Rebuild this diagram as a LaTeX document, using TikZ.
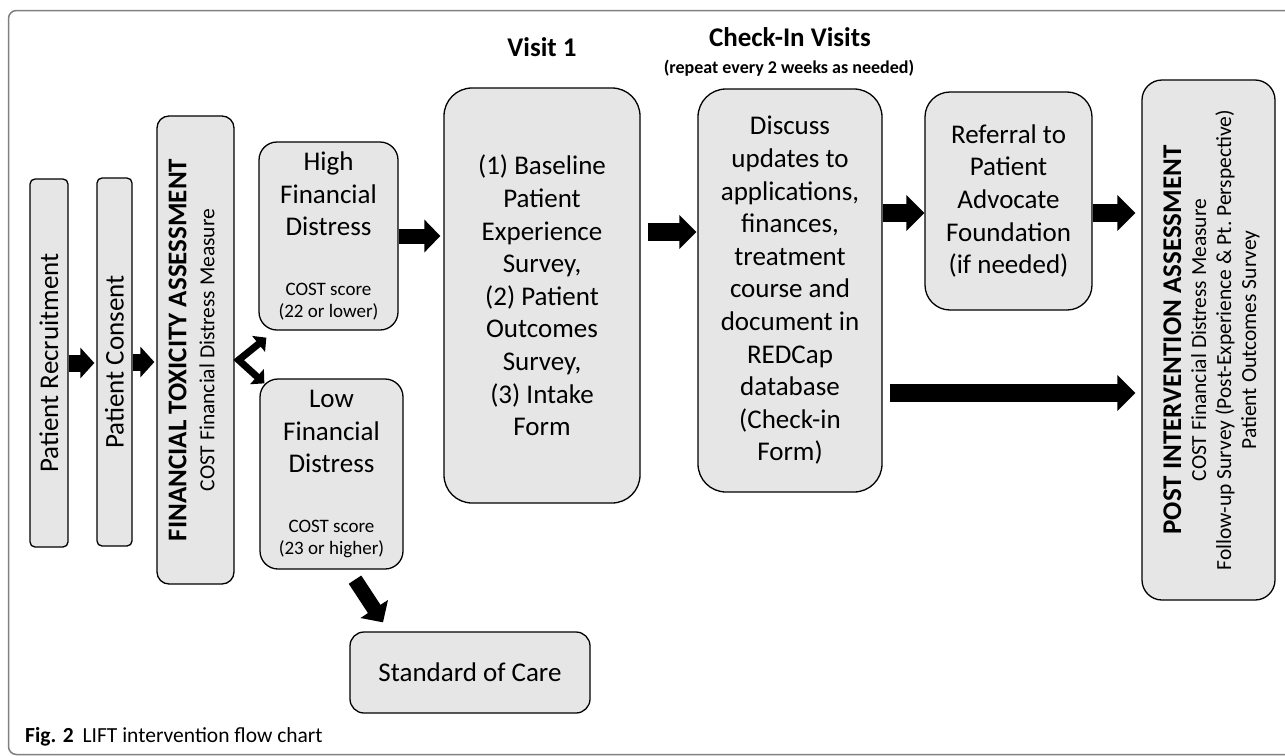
\documentclass[tikz,border=0pt]{standalone}
\usepackage{fontspec}
\setmainfont{Carlito}
\usetikzlibrary{arrows.meta,calc}
\definecolor{boxgray}{HTML}{E6E6E6}
\definecolor{framegray}{HTML}{808080}
\newcommand{\bigtxt}{\fontsize{27}{32.6}\selectfont}
\newcommand{\smalltxt}{\fontsize{19}{22}\selectfont}
\newcommand{\midtxt}{\fontsize{21.5}{25}\selectfont}
% natural inter-word spacing inside fixed-width nodes
\newcommand{\natspace}{\centering\spaceskip=0pt\xspaceskip=0pt\relax}
\begin{document}
\begin{tikzpicture}[x=1pt,y=-1pt,
  box/.style={draw=black, line width=1.3pt, fill=boxgray, inner sep=0pt,
    align=center, font=\bigtxt},
  heading/.style={inner sep=0pt, font=\bfseries\fontsize{27}{32}\selectfont},
  fat/.style={draw=black, line width=#1},
  tipA/.style={-{Triangle[length=14pt,width=30pt]}},
  tipB/.style={-{Triangle[length=16pt,width=32pt]}},
  tipC/.style={-{Triangle[length=17pt,width=33pt]}},
  tipD/.style={-{Triangle[length=18pt,width=35pt]}},
]
\useasboundingbox (0,0) rectangle (1285,755);

% outer panel frame
\begin{scope}
  \clip (0,0) rectangle (1285,755);
  \draw[framegray, line width=1.5pt, rounded corners=8pt] (8.5,10.5) rectangle (1330,754.5);
\end{scope}

% boxes
\node[box, rotate=90, rounded corners=5pt, minimum width=368pt, minimum height=38pt]
  (rec) at (49,363) {Patient Recruitment};
\node[box, rotate=90, rounded corners=5pt, minimum width=368pt, minimum height=35pt]
  (cons) at (114.5,362) {Patient Consent};
\node[box, rotate=90, rounded corners=12pt, minimum width=468pt, minimum height=77pt, text width=460pt]
  (fta) at (195.5,350)
  {\natspace{\bfseries FINANCIAL TOXICITY ASSESSMENT\par}{\fontsize{21.5}{28}\selectfont COST Financial Distress Measure\par}\kern8pt};
\node[box, rounded corners=18pt, minimum width=139pt, minimum height=188pt, text width=134pt]
  (high) at (328.5,236)
  {\natspace High\\Financial\\Distress\par\vspace{38pt}{\smalltxt COST score\\(22 or lower)\par}};
\node[box, rounded corners=18pt, minimum width=143pt, minimum height=190pt, text width=138pt]
  (low) at (331.5,474)
  {\natspace Low\\Financial\\Distress\par\vspace{38pt}{\smalltxt COST score\\(23 or higher)\par}};
\node[box, rounded corners=28pt, minimum width=196pt, minimum height=415pt]
  (visit) at (542,295.5)
  {(1) Baseline\\Patient\\Experience\\Survey,\\(2) Patient\\Outcomes\\Survey,\\(3) Intake\\Form};
\node[box, rounded corners=28pt, minimum width=184pt, minimum height=403pt]
  (disc) at (790,290.5)
  {Discuss\\updates to\\applications,\\finances,\\treatment\\course and\\document in\\REDCap\\database\\(Check-in\\Form)};
\node[box, rounded corners=25pt, minimum width=167pt, minimum height=218pt]
  (refr) at (1008.5,201)
  {Referral to\\Patient\\Advocate\\Foundation\\(if needed)};
\node[box, rotate=90, rounded corners=20pt, minimum width=520pt, minimum height=133pt, text width=505pt]
  (post) at (1208.5,340)
  {\natspace{\bfseries POST INTERVENTION ASSESSMENT\par}{\midtxt COST Financial Distress Measure\\Follow-up Survey (Post-Experience \& Pt.\ Perspective)\\Patient Outcomes Survey\par}\kern-6pt};
\node[box, rounded corners=14pt, minimum width=240pt, minimum height=81pt]
  (soc) at (470,672.5) {Standard of Care};

% headings
\node[heading] (hvisit) at (542,47) {Visit 1};
\node[heading] (hcheck) at (790,37) {Check-In Visits};
\node[inner sep=0pt, font=\bfseries\fontsize{18}{21}\selectfont] (hrepeat) at (789,68)
  {(repeat every 2 weeks as needed)};

% caption
\node[inner sep=0pt, anchor=base west, font=\fontsize{21.5}{24}\selectfont] (caption) at (25,742)
  {\textbf{Fig. 2}\hspace{9pt}LIFT intervention flow chart};

% connectors
\draw[fat=17pt, tipA, shorten >=2pt] (rec.south) -- (rec.south -| cons.north);
\draw[fat=17pt, tipA, shorten >=2pt] (cons.south) -- (cons.south -| fta.north);
\draw[fat=7pt, line join=miter, {Triangle[length=10pt,width=20pt]}-{Triangle[length=10pt,width=20pt]}]
  ($(high.south west)+(8,7)$) -- ($(fta.south)+(4,10)$) -- ($(low.north west)+(5,5)$);
\draw[fat=15pt, tipB] ($(low.south)+(23.5,10)$) -- ($(soc.north)+(-87,-9)$);
\draw[fat=15pt, tipB, shorten >=3pt] (high.east) -- (high.east -| visit.west);
\coordinate (a4) at ($(visit.east)+(7,-63.5)$);
\draw[fat=18pt, tipC, shorten >=1pt] (a4) -- (a4 -| disc.west);
\coordinate (a5) at ($(disc.east)+(0,-77.5)$);
\draw[fat=18pt, tipD] (a5) -- (a5 -| refr.west);
\draw[fat=18pt, tipD, shorten >=6pt] (refr.east |- a5) -- (a5 -| post.north);
\coordinate (a7) at ($(disc.east)+(7,102.5)$);
\draw[fat=18pt, tipD, shorten >=6pt] (a7) -- (a7 -| post.north);
\end{tikzpicture}
\end{document}
